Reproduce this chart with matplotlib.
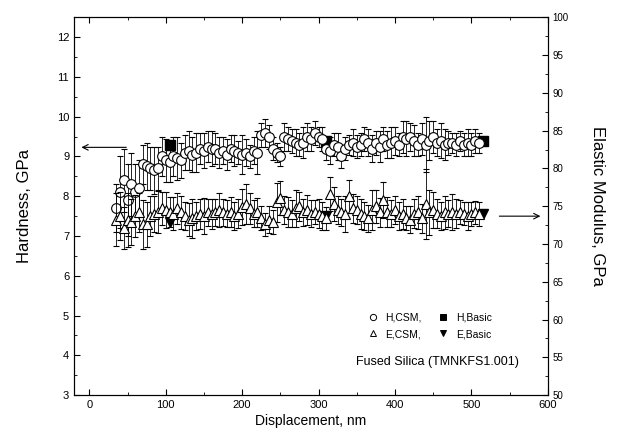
import matplotlib
matplotlib.use("Agg")
import matplotlib.pyplot as plt
from matplotlib.ticker import MultipleLocator
from matplotlib.lines import Line2D

plt.rcParams['font.family'] = ['Liberation Sans', 'DejaVu Sans']

# displacement, nm (CSM points)
disp = list(range(35, 515, 5))

# hardness, GPa (CSM)
h_csm = [7.7, 8.1, 8.4, 7.9, 8.3, 8.1, 8.2, 8.8, 8.75, 8.7,
         8.65, 8.7, 9.0, 8.9, 8.85, 9.0, 8.95, 8.9, 9.1, 9.15,
         9.05, 9.1, 9.2, 9.15, 9.25, 9.2, 9.2, 9.1, 9.15, 9.05,
         9.2, 9.15, 9.1, 9.05, 9.1, 9.0, 9.15, 9.1, 9.55, 9.6,
         9.5, 9.2, 9.1, 9.0, 9.5, 9.45, 9.4, 9.35, 9.3, 9.35,
         9.5, 9.45, 9.6, 9.5, 9.45, 9.2, 9.15, 9.3, 9.25, 9.0,
         9.2, 9.3, 9.35, 9.25, 9.3, 9.45, 9.35, 9.2, 9.35, 9.25,
         9.45, 9.3, 9.35, 9.4, 9.3, 9.5, 9.45, 9.5, 9.4, 9.3,
         9.45, 9.3, 9.4, 9.5, 9.35, 9.4, 9.3, 9.35, 9.35, 9.3,
         9.4, 9.3, 9.35, 9.3, 9.4, 9.35]
h_err = [0.6, 0.9, 0.8, 0.9, 0.8, 0.7, 0.7, 0.5, 0.6, 0.55,
         0.6, 0.55, 0.5, 0.55, 0.5, 0.5, 0.55, 0.45, 0.45, 0.5,
         0.45, 0.5, 0.4, 0.45, 0.4, 0.45, 0.4, 0.4, 0.35, 0.4,
         0.35, 0.4, 0.3, 0.5, 0.35, 0.3, 0.35, 0.55, 0.3, 0.35,
         0.3, 0.3, 0.25, 0.25, 0.35, 0.3, 0.3, 0.35, 0.3, 0.4,
         0.35, 0.3, 0.3, 0.25, 0.3, 0.3, 0.35, 0.3, 0.35, 0.3,
         0.3, 0.25, 0.35, 0.3, 0.3, 0.3, 0.35, 0.35, 0.3, 0.4,
         0.3, 0.35, 0.4, 0.35, 0.3, 0.4, 0.45, 0.35, 0.4, 0.3,
         0.4, 0.7, 0.5, 0.4, 0.35, 0.45, 0.4, 0.3, 0.25, 0.3,
         0.25, 0.3, 0.35, 0.3, 0.3, 0.25]

# elastic modulus, GPa (CSM)
e_csm = [73.2, 73.7, 72.1, 73.2, 72.9, 73.7, 74.2, 72.6, 72.6, 73.7,
         74.0, 74.2, 74.7, 74.5, 74.2, 74.0, 74.7, 74.2, 73.7, 73.2,
         73.4, 73.7, 74.0, 73.7, 74.2, 74.0, 74.2, 74.5, 74.2, 74.0,
         74.2, 73.7, 74.0, 74.9, 75.3, 74.7, 74.0, 74.2, 73.4, 72.6,
         73.2, 72.9, 75.5, 76.1, 74.5, 74.2, 74.0, 74.7, 75.0, 74.2,
         74.5, 74.0, 74.2, 74.0, 73.7, 73.4, 76.6, 75.3, 74.5, 74.2,
         74.0, 76.3, 74.7, 74.5, 74.0, 73.7, 73.4, 74.5, 75.0, 74.2,
         75.8, 74.2, 74.0, 74.5, 73.7, 74.0, 73.4, 73.2, 74.0, 74.2,
         73.4, 75.3, 74.2, 74.5, 74.0, 73.7, 74.2, 74.0, 74.2, 74.0,
         74.2, 74.0, 73.7, 74.0, 74.2, 74.0]
e_err = [3.5, 3.2, 2.8, 3.6, 3.0, 2.8, 2.6, 3.2, 3.0, 2.6,
         2.4, 2.8, 2.2, 2.4, 2.0, 2.2, 2.0, 2.2, 1.8, 2.2,
         2.6, 1.8, 2.0, 2.4, 1.8, 2.0, 1.8, 2.2, 1.8, 1.8,
         2.0, 1.8, 1.9, 2.4, 2.6, 2.0, 1.8, 1.9, 1.6, 1.5,
         1.8, 1.6, 2.6, 2.2, 1.9, 2.0, 1.8, 2.4, 1.9, 1.8,
         2.0, 1.8, 1.6, 1.9, 1.8, 1.5, 2.2, 2.2, 1.9, 1.8,
         2.4, 2.2, 1.9, 1.8, 2.0, 1.9, 1.8, 2.6, 2.2, 1.9,
         2.4, 2.0, 1.8, 1.9, 1.8, 2.0, 1.6, 1.8, 1.9, 2.2,
         1.9, 4.6, 3.0, 2.4, 1.9, 1.8, 2.2, 1.8, 2.4, 1.9,
         1.6, 1.5, 1.8, 1.6, 1.5, 1.6]

# basic method points
disp_basic = [105, 310, 515]
h_basic = [9.3, 9.4, 9.38]
e_basic = [72.9, 73.7, 74.0]

fig = plt.figure(figsize=(6.3, 4.43), dpi=100)
ax = fig.add_axes([0.1175, 0.108, 0.752, 0.853])
ax2 = ax.twinx()

ax.errorbar(disp, h_csm, yerr=h_err, fmt='o', ms=7, mfc='white', mec='black',
            mew=0.8, ecolor='black', elinewidth=0.6, capsize=2.5, capthick=0.6)
ax.plot(disp_basic, h_basic, 's', ms=7, color='black')

ax2.errorbar(disp, e_csm, yerr=e_err, fmt='^', ms=7.5, mfc='white', mec='black',
             mew=0.8, ecolor='black', elinewidth=0.6, capsize=2.5, capthick=0.6)
ax2.plot(disp_basic, e_basic, 'v', ms=7.5, color='black')

ax.set_xlim(-20, 600)
ax.set_ylim(3, 12.5)
ax2.set_ylim(50, 100)

ax.xaxis.set_major_locator(MultipleLocator(100))
ax.xaxis.set_minor_locator(MultipleLocator(50))
ax.yaxis.set_major_locator(MultipleLocator(1))
ax.yaxis.set_minor_locator(MultipleLocator(0.5))
ax2.yaxis.set_major_locator(MultipleLocator(5))
ax2.yaxis.set_minor_locator(MultipleLocator(2.5))

ax.tick_params(which='both', direction='in', top=True, labelsize=8)
ax.tick_params(which='major', length=4)
ax.tick_params(which='minor', length=2)
ax2.tick_params(which='both', direction='in', labelsize=7)
ax2.tick_params(which='major', length=4)
ax2.tick_params(which='minor', length=2)

ax.set_xlabel('Displacement, nm', fontsize=10, labelpad=3)
ax.set_ylabel('Hardness, GPa', fontsize=12, labelpad=18)
ax2.set_ylabel('Elastic Modulus, GPa', fontsize=12, rotation=270, labelpad=26)

# arrows pointing to each axis
ax.annotate('', xy=(-14, 9.23), xytext=(52, 9.23),
            arrowprops=dict(arrowstyle='->', lw=0.8, color='black'))
ax.annotate('', xy=(594, 7.5), xytext=(533, 7.5),
            arrowprops=dict(arrowstyle='->', lw=0.8, color='black'))

# legend with plain markers
mk = dict(ls='none', mec='black', mew=0.7, ms=4.5)
handles = [Line2D([], [], marker='o', mfc='white', **mk),
           Line2D([], [], marker='^', mfc='white', **mk),
           Line2D([], [], marker='s', mfc='black', **mk),
           Line2D([], [], marker='v', mfc='black', **mk)]
labels = ['H,CSM,', 'E,CSM,', 'H,Basic', 'E,Basic']
ax2.legend(handles, labels, ncol=2, frameon=False, fontsize=7.5, loc='upper left',
           bbox_to_anchor=(0.565, 0.315), bbox_transform=fig.transFigure,
           handletextpad=0.5, columnspacing=1.4, handlelength=1.4,
           labelspacing=0.6)

ax.text(0.94, 0.087, 'Fused Silica (TMNKFS1.001)', transform=ax.transAxes,
        ha='right', va='center', fontsize=9)

fig.savefig('out.png', dpi=100)
